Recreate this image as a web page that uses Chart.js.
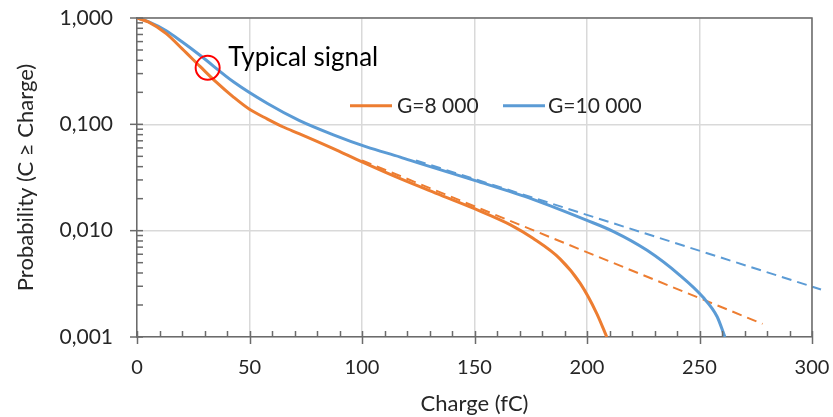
<!DOCTYPE html>
<html><head><meta charset="utf-8">
<script src="https://cdn.jsdelivr.net/npm/chart.js@4.4.1/dist/chart.umd.min.js"></script>
<style>html,body{margin:0;padding:0;background:#fff;} canvas{display:block}</style>
</head><body>
<canvas id="c" width="833" height="417"></canvas>
<script>
// ---- data ----
const chargeG8 = [0, 5, 13, 20, 28, 35, 43, 50, 58, 65, 72, 87, 100, 117, 135, 150, 166, 176, 188, 197, 204.3, 208.8];
const probG8   = [1.0, 0.918, 0.713, 0.515, 0.351, 0.252, 0.1795, 0.1384, 0.112, 0.0944, 0.0818, 0.0594, 0.0443, 0.0308, 0.0216, 0.0161, 0.01135, 0.00847, 0.00543, 0.00319, 0.00167, 0.001];
const chargeG10 = [0, 5, 13, 20, 28, 43, 58, 72, 87, 102, 117, 126, 150, 176, 200, 211.6, 226.7, 241.3, 251.6, 257.8, 261.3];
const probG10   = [1.0, 0.923, 0.758, 0.597, 0.446, 0.25, 0.157, 0.109, 0.0802, 0.0614, 0.0492, 0.0427, 0.0297, 0.0197, 0.0125, 0.00985, 0.00653, 0.0038, 0.00236, 0.00156, 0.001];
const fitG8Charge = [100, 278];
const fitG8Prob   = [0.0458, 0.00133];
const fitG10Charge = [124, 304];
const fitG10Prob   = [0.0458, 0.0028];
const seriesLabels = ['G=8 000', 'G=10 000'];
const xTickLabels = ['0', '50', '100', '150', '200', '250', '300'];
const yTickValues = [0.001, 0.01, 0.1, 1];
const yTickLabels = ['0,001', '0,010', '0,100', '1,000'];
const annotText = 'Typical signal';
const annotCharge = 31.4;
const annotProb = 0.34;

const ORANGE = '#ED7D31', BLUE = '#5B9BD5';
const TXT = '#262626', AXIS = '#6b6b6b', GRID = '#d9d9d9';
const FONT = 'Lato';

function pts(xs, ys) { return xs.map((x, i) => ({x: x, y: ys[i]})); }
function noPad(s) { s.paddingTop = 0; s.paddingBottom = 0; s.paddingLeft = 0; s.paddingRight = 0; }

const extras = {
  id: 'extras',
  afterDraw(chart) {
    const ctx = chart.ctx, a = chart.chartArea;
    const xs = chart.scales.x, ys = chart.scales.y;
    ctx.save();
    ctx.strokeStyle = AXIS; ctx.lineWidth = 1.5;
    ctx.beginPath();
    ctx.moveTo(a.left, a.top); ctx.lineTo(a.right, a.top); ctx.lineTo(a.right, a.bottom);
    ctx.stroke();
    for (let v = 0; v <= 300; v += 10) {
      const p = Math.round(xs.getPixelForValue(v)) + 0.5;
      ctx.beginPath();
      if (v % 50 === 0) { ctx.moveTo(p, a.bottom - 6); ctx.lineTo(p, a.bottom + 7); }
      else { ctx.moveTo(p, a.bottom - 6); ctx.lineTo(p, a.bottom); }
      ctx.stroke();
    }
    yTickValues.forEach((d, i) => {
      const p = ys.getPixelForValue(d);
      ctx.beginPath(); ctx.moveTo(a.left - 7, p); ctx.lineTo(a.left + 6, p); ctx.stroke();
      if (i < yTickValues.length - 1) {
        for (let m = 2; m <= 9; m++) {
          const q = ys.getPixelForValue(d * m);
          ctx.beginPath(); ctx.moveTo(a.left, q); ctx.lineTo(a.left + 6, q); ctx.stroke();
        }
      }
    });
    ctx.font = '21px ' + FONT; ctx.fillStyle = TXT; ctx.textBaseline = 'alphabetic'; ctx.textAlign = 'left';
    const leg = [[350, 392, 397, ORANGE, seriesLabels[0]], [503, 545, 548, BLUE, seriesLabels[1]]];
    leg.forEach(l => {
      ctx.strokeStyle = l[3]; ctx.lineWidth = 3;
      ctx.beginPath(); ctx.moveTo(l[0], 105.7); ctx.lineTo(l[1], 105.7); ctx.stroke();
      ctx.fillText(l[4], l[2], 113);
    });
    const cx = xs.getPixelForValue(annotCharge), cy = ys.getPixelForValue(annotProb);
    ctx.strokeStyle = '#ff0000'; ctx.lineWidth = 2;
    ctx.beginPath(); ctx.arc(cx, cy, 12, 0, Math.PI * 2); ctx.stroke();
    ctx.font = '26px ' + FONT; ctx.fillStyle = '#000';
    ctx.fillText(annotText, cx + 20.5, cy - 1.5);
    ctx.restore();
  }
};

new Chart(document.getElementById('c'), {
  type: 'line',
  data: {
    datasets: [
      {label: seriesLabels[0], data: pts(chargeG8, probG8), borderColor: ORANGE, borderWidth: 3, cubicInterpolationMode: 'monotone'},
      {label: seriesLabels[1], data: pts(chargeG10, probG10), borderColor: BLUE, borderWidth: 3, cubicInterpolationMode: 'monotone'},
      {label: 'fit8', data: pts(fitG8Charge, fitG8Prob), borderColor: ORANGE, borderWidth: 2, borderDash: [10, 6]},
      {label: 'fit10', data: pts(fitG10Charge, fitG10Prob), borderColor: BLUE, borderWidth: 2, borderDash: [10, 6], clip: false}
    ]
  },
  options: {
    responsive: false, animation: false, devicePixelRatio: 1,
    layout: {padding: {top: 18, right: 21, left: 0, bottom: 0}},
    elements: {point: {radius: 0, hoverRadius: 0}, line: {fill: false}},
    plugins: {legend: {display: false}, tooltip: {enabled: false}},
    scales: {
      x: {
        type: 'linear', min: 0, max: 300,
        ticks: {stepSize: 50, padding: 19, color: TXT, font: {family: FONT, size: 20},
                callback: (v, i) => xTickLabels[i]},
        grid: {color: GRID, lineWidth: 1.5, drawTicks: false},
        border: {display: true, color: AXIS, width: 1.5},
        title: {display: true, text: 'Charge (fC)', color: TXT, font: {family: FONT, size: 22}, padding: {top: 0, bottom: 0}},
        afterFit: s => { s.height = 80; noPad(s); }
      },
      y: {
        type: 'logarithmic', min: 0.001, max: 1,
        afterBuildTicks: s => { s.ticks = yTickValues.map(v => ({value: v})); },
        ticks: {padding: 24, color: TXT, font: {family: FONT, size: 21},
                callback: (v, i) => yTickLabels[i]},
        grid: {color: GRID, lineWidth: 1.5, drawTicks: false},
        border: {display: true, color: AXIS, width: 1.5},
        title: {display: true, text: 'Probability (C \u2265 Charge)', color: TXT, font: {family: FONT, size: 22}, padding: {top: 13, bottom: 0}},
        afterFit: s => { s.width = 137; noPad(s); }
      }
    }
  },
  plugins: [extras]
});
</script>
</body></html>
